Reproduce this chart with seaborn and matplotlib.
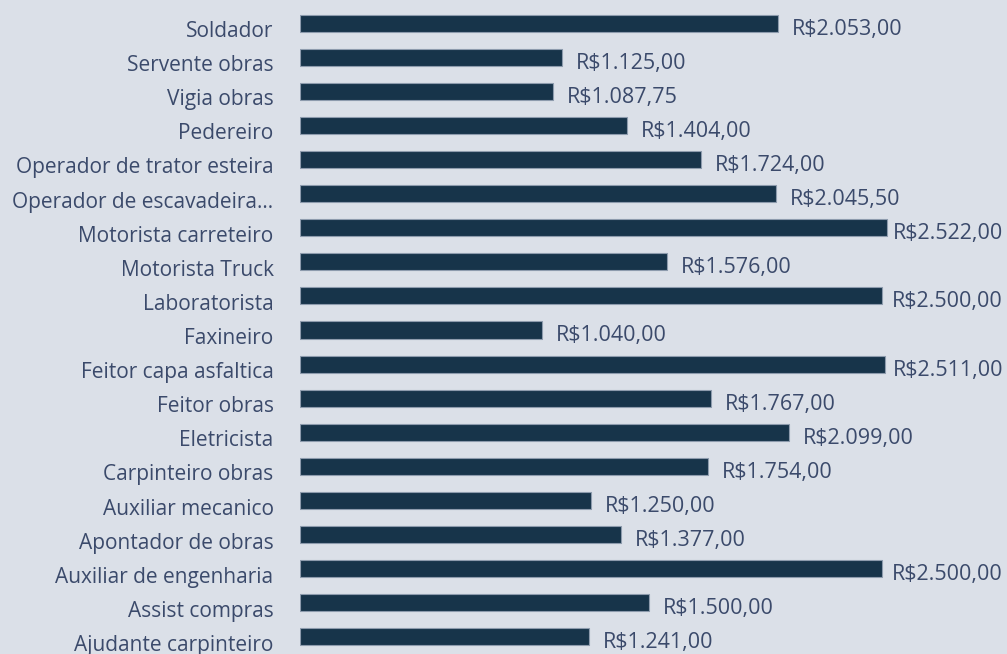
import matplotlib
matplotlib.use('Agg')
import matplotlib.pyplot as plt
import matplotlib.transforms as mtransforms
import seaborn as sns
import pandas as pd

cargos = ['Soldador', 'Servente obras', 'Vigia obras', 'Pedereiro',
          'Operador de trator esteira', 'Operador de escavadeira...',
          'Motorista carreteiro', 'Motorista Truck', 'Laboratorista',
          'Faxineiro', 'Feitor capa asfaltica', 'Feitor obras', 'Eletricista',
          'Carpinteiro obras', 'Auxiliar mecanico', 'Apontador de obras',
          'Auxiliar de engenharia', 'Assist compras', 'Ajudante carpinteiro']
salarios = [2053.00, 1125.00, 1087.75, 1404.00, 1724.00, 2045.50, 2522.00,
            1576.00, 2500.00, 1040.00, 2511.00, 1767.00, 2099.00, 1754.00,
            1250.00, 1377.00, 2500.00, 1500.00, 1241.00]

df = pd.DataFrame({'cargo': cargos, 'salario': salarios})

bg = '#dbe0e8'
txt = '#3b4a6b'
sns.set_style('white')
plt.rcParams['font.family'] = ['Open Sans', 'DejaVu Sans']

fig = plt.figure(figsize=(10.07, 6.54), dpi=100, facecolor=bg)
ax = fig.add_axes([300 / 1007, 0, 1 - 300 / 1007, 648 / 654])
ax.set_facecolor(bg)

sns.barplot(data=df, x='salario', y='cargo', orient='h', color='#17344a',
            saturation=1, width=0.5, edgecolor='#8d9bad', linewidth=0.8, ax=ax)


def brl(v):
    s = f'{v:,.2f}'.replace(',', 'X').replace('.', ',').replace('X', '.')
    return 'R$' + s


xmax = 3037
ax.set_xlim(0, xmax)
ax.set_ylim(18.5, -0.5)

# rótulos de valor; os maiores ficam presos na borda direita (como no Excel)
lim = (1003 - 300) / 707
for i, v in enumerate(salarios):
    if v / xmax + (14 + 115) / 707 > lim:
        tr = mtransforms.blended_transform_factory(ax.transAxes, ax.transData)
        ax.annotate(brl(v), (lim, i), xycoords=tr, xytext=(0, -6),
                    textcoords='offset pixels', ha='right', va='center',
                    color=txt, fontsize=15.5)
    else:
        ax.annotate(brl(v), (v, i), xytext=(14, -6),
                    textcoords='offset pixels', ha='left', va='center',
                    color=txt, fontsize=15.5)

ax.set_xlabel('')
ax.set_ylabel('')
ax.set_xticks([])
ax.tick_params(axis='y', length=0, pad=19, labelsize=15, labelcolor=txt)
off = mtransforms.ScaledTranslation(0, -6 / 100, fig.dpi_scale_trans)
for lab in ax.get_yticklabels():
    lab.set_transform(lab.get_transform() + off)
sns.despine(ax=ax, left=True, bottom=True)

fig.savefig('out.png', dpi=100, facecolor=bg)
